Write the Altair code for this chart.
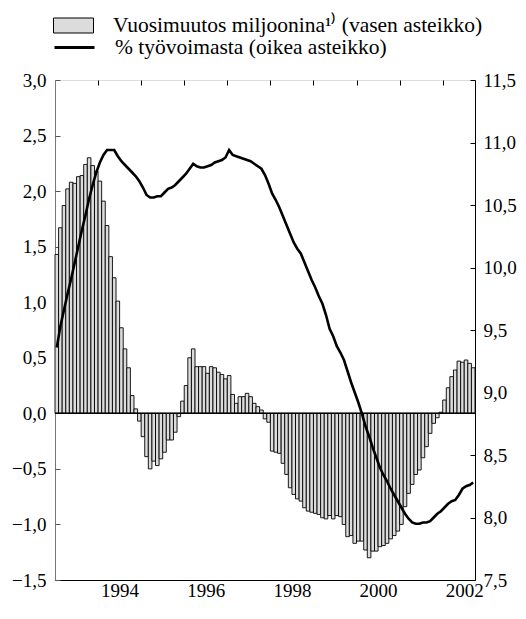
import altair as alt
import pandas as pd

# ---- data (monthly, Jan 1993 - Sep 2002) ----
start_year = 1993
bar_label = "Vuosimuutos miljoonina¹⁾ (vasen asteikko)"
line_label = "% työvoimasta (oikea asteikko)"

change_mn = [
    1.43, 1.67, 1.87, 2.02, 2.08, 2.07, 2.13, 2.14, 2.24, 2.30, 2.23, 2.18,
    2.09, 1.91, 1.69, 1.41, 1.22, 1.01, 0.77, 0.58, 0.41, 0.16, 0.04, -0.07,
    -0.21, -0.39, -0.50, -0.43, -0.47, -0.41, -0.35, -0.24, -0.24, -0.17, -0.03, 0.11,
    0.25, 0.50, 0.58, 0.42, 0.42, 0.42, 0.36, 0.42, 0.41, 0.37, 0.35, 0.31,
    0.34, 0.17, 0.09, 0.15, 0.15, 0.18, 0.15, 0.09, 0.06, 0.03, -0.05, -0.08,
    -0.34, -0.35, -0.36, -0.45, -0.55, -0.67, -0.73, -0.77, -0.79, -0.85, -0.88, -0.89,
    -0.90, -0.91, -0.94, -0.95, -0.92, -0.95, -0.92, -0.93, -1.00, -1.11, -1.10, -1.17,
    -1.15, -1.15, -1.23, -1.30, -1.24, -1.24, -1.20, -1.19, -1.17, -1.13, -1.10, -1.06,
    -1.00, -0.84, -0.72, -0.64, -0.55, -0.51, -0.40, -0.30, -0.18, -0.09, -0.04, 0.01,
    0.12, 0.23, 0.33, 0.39, 0.47, 0.46, 0.48, 0.45, 0.41,
]

unemp_pct = [
    9.36, 9.53, 9.66, 9.79, 9.91, 10.04, 10.17, 10.30, 10.42, 10.55,
    10.66, 10.76, 10.84, 10.90, 10.94, 10.94, 10.94, 10.89, 10.85, 10.82,
    10.79, 10.76, 10.73, 10.69, 10.64, 10.58, 10.56, 10.56, 10.57, 10.57,
    10.60, 10.63, 10.64, 10.66, 10.69, 10.72, 10.75, 10.79, 10.83, 10.81,
    10.80, 10.80, 10.81, 10.82, 10.84, 10.85, 10.86, 10.88, 10.94, 10.90,
    10.89, 10.88, 10.87, 10.86, 10.85, 10.83, 10.81, 10.79, 10.74, 10.67,
    10.59, 10.54, 10.48, 10.41, 10.34, 10.27, 10.20, 10.15, 10.11, 10.04,
    9.97, 9.90, 9.84, 9.77, 9.71, 9.62, 9.51, 9.45, 9.37, 9.32,
    9.26, 9.17, 9.08, 9.00, 8.92, 8.83, 8.73, 8.65, 8.56, 8.48,
    8.40, 8.34, 8.29, 8.23, 8.18, 8.13, 8.08, 8.03, 7.99, 7.96,
    7.95, 7.95, 7.96, 7.96, 7.97, 8.00, 8.03, 8.05, 8.08, 8.11,
    8.13, 8.14, 8.18, 8.23, 8.25, 8.26, 8.28,
]

left_ticks = [-1.5, -1.0, -0.5, 0.0, 0.5, 1.0, 1.5, 2.0, 2.5, 3.0]
right_ticks = [7.5, 8.0, 8.5, 9.0, 9.5, 10.0, 10.5, 11.0, 11.5]

n = len(change_mn)
df = pd.DataFrame({
    "i": list(range(n)),
    "i2": [k + 1 for k in range(n)],
    "mid": [k + 0.5 for k in range(n)],
    "change": change_mn,
    "base": [0.0] * n,
    "pct": unemp_pct,
    "s1": [bar_label] * n,
    "s2": [line_label] * n,
})
zero_df = pd.DataFrame({"z": [0.0]})

FONT = "Liberation Serif"
FS = 19
LFS = 21.5
W, H = 420, 500
TOP = 72
year_ticks = list(range(12, n, 12))
half_year_px = W / n * 6

xscale = alt.Scale(domain=[0, n], nice=False, zero=False)
lscale = alt.Scale(domain=[-1.5, 3.0], nice=False, zero=False)
rscale = alt.Scale(domain=[7.5, 11.5], nice=False, zero=False)
comma = "replace(format(datum.value, '.1f'), '.', ',')"

bars = alt.Chart(df).mark_bar(stroke="black", strokeWidth=0.9).encode(
    x=alt.X("i:Q", scale=xscale, axis=alt.Axis(
        values=year_ticks, ticks=False, grid=False, title=None,
        labelExpr=f"datum.value % 24 == 12 ? '' + ({start_year} + datum.value / 12) : ''",
        labelOffset=half_year_px, labelPadding=1, labelOverlap=False, labelFlush=False,
        labelFont=FONT, labelFontSize=FS, labelColor="black",
        domainColor="black", domainWidth=1)),
    x2="i2",
    y=alt.Y("change:Q", stack=None, scale=lscale, axis=alt.Axis(
        orient="left", values=left_ticks, ticks=False, grid=False, title=None,
        labelExpr=comma, labelPadding=9, labelFont=FONT, labelFontSize=FS,
        labelColor="black", domainColor="#777777", domainWidth=1)),
    y2="base",
    fill=alt.Fill("s1:N", scale=alt.Scale(range=["#dcdcdc"]), legend=alt.Legend(
        title=None, orient="none", legendX=-2, legendY=25 - 8 - TOP - 20, padding=0,
        symbolType="M-1,-0.375H1V0.375H-1Z", symbolSize=1600,
        symbolStrokeColor="black", symbolStrokeWidth=1,
        labelFont=FONT, labelFontSize=LFS, labelOffset=19, labelLimit=600,
        labelColor="black")),
)

zero_rule = alt.Chart(zero_df).mark_rule(color="black", strokeWidth=1.5).encode(
    y=alt.Y("z:Q", scale=lscale, axis=alt.Axis(
        orient="left", values=left_ticks, labels=False, domain=False, grid=False,
        title=None, ticks=True, tickSize=5, offset=-5, tickColor="#555555")),
)

line = alt.Chart(df).mark_line(strokeWidth=2.6).encode(
    x=alt.X("mid:Q", scale=xscale, axis=None),
    y=alt.Y("pct:Q", scale=rscale, axis=alt.Axis(
        orient="right", values=right_ticks, ticks=False, grid=False, title=None,
        labelExpr=comma, labelPadding=8, labelFont=FONT, labelFontSize=FS,
        labelColor="black", domainColor="black", domainWidth=1)),
    stroke=alt.Stroke("s2:N", scale=alt.Scale(range=["black"]), legend=alt.Legend(
        title=None, orient="none", legendX=-2, legendY=46 - 8 - TOP - 20, padding=0,
        symbolType="stroke", symbolSize=1600, symbolStrokeWidth=3,
        labelFont=FONT, labelFontSize=LFS, labelOffset=19, labelLimit=600,
        labelColor="black")),
)

tick_layer = alt.Chart(df).mark_line(strokeOpacity=0).encode(
    x=alt.X("mid:Q", scale=xscale, axis=alt.Axis(
        values=year_ticks, labels=False, domain=False, grid=False, title=None,
        ticks=True, tickSize=5, offset=-5, tickColor="black")),
    y=alt.Y("pct:Q", scale=rscale, axis=alt.Axis(
        orient="right", values=right_ticks, labels=False, domain=False, grid=False,
        title=None, ticks=True, tickSize=5, offset=-5, tickColor="black")),
)

chart = alt.layer(bars, zero_rule, line, tick_layer).resolve_scale(
    y="independent"
).resolve_axis(
    x="independent", y="independent"
).properties(
    width=W, height=H,
    autosize=alt.AutoSizeParams(type="none"),
    padding={"left": 47, "top": TOP, "right": 43, "bottom": 24},
).configure_view(stroke=None).configure(font=FONT)

chart.save("out.html", embed_options={"renderer": "svg", "actions": False})
